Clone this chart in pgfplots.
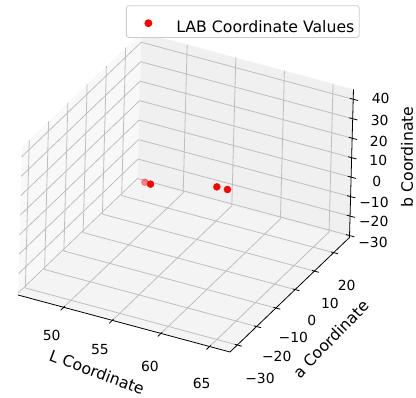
\documentclass[border=0pt]{standalone}
\usepackage{fontspec}
\setmainfont{DejaVu Sans}
\usepackage{pgfplots}
\usepackage{pgfplotstable}
\pgfplotsset{compat=1.18}
\newcommand{\fs}{\fontsize{13.9bp}{16bp}\selectfont}
\newcommand{\fl}{\fontsize{15.7bp}{18bp}\selectfont}
\definecolor{gridc}{RGB}{190,190,190}
\definecolor{paneL}{RGB}{248,248,248}
\definecolor{paneB}{RGB}{240,240,240}
\definecolor{paneF}{RGB}{244,244,244}
\definecolor{legc}{RGB}{204,204,204}
\pgfplotstableread{
L a b
46.6 25.4 -27.5
}\faded
\pgfplotstableread{
L a b
49.4 13.8 -13.7
62.6 -19.7 34.4
64.8 -25.5 41.5
}\main
\begin{document}
\begin{tikzpicture}
\begin{axis}[
  set layers, clip=false,
  x={(9.725bp,-2.615bp)}, y={(1.927bp,1.847bp)}, z={(0.0526bp,1.947bp)},
  xmin=45.3, xmax=67.1, ymin=-33.8, ymax=28.2, zmin=-31, zmax=45.1,
  xtick={50,55,60,65}, ytick={-30,-20,-10,0,10,20}, ztick={-30,-20,-10,0,10,20,30,40},
  xticklabels={}, yticklabels={}, zticklabels={},
  major tick length=0pt,
  axis line style={draw=none},
  grid=major, grid style={draw=gridc, line width=0.8bp},
  legend cell align=left,
  legend style={at={(axis cs:45.3,28.2,45.1)}, anchor=south west, xshift=-15.5bp, yshift=-5.5bp,
    draw=legc, line width=0.8bp, rounded corners=2.5bp, fill=white,
    inner xsep=5bp, inner ysep=3bp, font=\fl,
    nodes={inner xsep=0bp, inner ysep=0bp}, column sep=0bp},
  legend image code/.code={\path[draw=none,fill=none] (0bp,-5bp) rectangle (45bp,19bp); \draw[#1] plot coordinates {(17bp,4.5bp)};},
]
\begin{pgfonlayer}{axis background}
\fill[paneF] (axis cs:45.3,-33.8,-31) -- (axis cs:67.1,-33.8,-31) -- (axis cs:67.1,28.2,-31) -- (axis cs:45.3,28.2,-31) -- cycle;
\fill[paneL] (axis cs:45.3,-33.8,-31) -- (axis cs:45.3,28.2,-31) -- (axis cs:45.3,28.2,45.1) -- (axis cs:45.3,-33.8,45.1) -- cycle;
\fill[paneB] (axis cs:45.3,28.2,-31) -- (axis cs:67.1,28.2,-31) -- (axis cs:67.1,28.2,45.1) -- (axis cs:45.3,28.2,45.1) -- cycle;
\end{pgfonlayer}
\addplot3[only marks, mark=*, mark size=3.5bp, color=red, opacity=0.45, forget plot] table[x=L,y=a,z=b]{\faded};
\addplot3[only marks, mark=*, mark size=3.5bp, color=red] table[x=L,y=a,z=b]{\main};
\addlegendentry{LAB Coordinate Values}
\draw[line width=0.8bp] (axis cs:45.3,-33.8,-31) -- (axis cs:67.1,-33.8,-31) -- (axis cs:67.1,28.2,-31) -- (axis cs:67.1,28.2,45.1);
\pgfplotsinvokeforeach{50,55,60,65}{\draw[line width=0.8bp] (axis cs:#1,-33.2,-31) -- (axis cs:#1,-35.4,-31);}
\pgfplotsinvokeforeach{-30,-20,-10,0,10,20}{\draw[line width=0.8bp] (axis cs:66.85,#1,-31) -- (axis cs:67.55,#1,-31);}
\pgfplotsinvokeforeach{-30,-20,-10,0,10,20,30,40}{\draw[line width=0.8bp] (axis cs:66.75,28.2,#1) -- (axis cs:67.6,28.2,#1);}
\coordinate (LB) at (axis cs:45.3,-33.8,-31);
\end{axis}
\coordinate (TL) at ([shift={(-18bp,295bp)}]LB);
\begin{scope}[shift={(TL)}, x=1bp, y=-1bp, every node/.style={font=\fs, inner sep=0pt}]
\node at (51.7,335) {50};
\node at (100,350) {55};
\node at (150,366.7) {60};
\node at (201.7,383.3) {65};
\node at (260,378.3) {−30};
\node at (276.7,356.7) {−20};
\node at (293.3,337.3) {−10};
\node at (311.7,320) {0};
\node at (330,303.3) {10};
\node at (346.7,285) {20};
\node at (373,242) {−30};
\node at (373.7,221.7) {−20};
\node at (374,202) {−10};
\node at (376.7,181.7) {0};
\node at (378.3,160) {10};
\node at (378.8,141) {20};
\node at (379.7,120) {30};
\node at (380.7,98.3) {40};
\node[font=\fl, rotate=-20.5] at (97,372) {L Coordinate};
\node[font=\fl, rotate=46] at (331,339) {a Coordinate};
\node[font=\fl, rotate=90] at (407,157) {b Coordinate};
\end{scope}
\pgfresetboundingbox
\path[use as bounding box] (TL) rectangle ([shift={(416bp,-398bp)}]TL);
\end{tikzpicture}
\end{document}
